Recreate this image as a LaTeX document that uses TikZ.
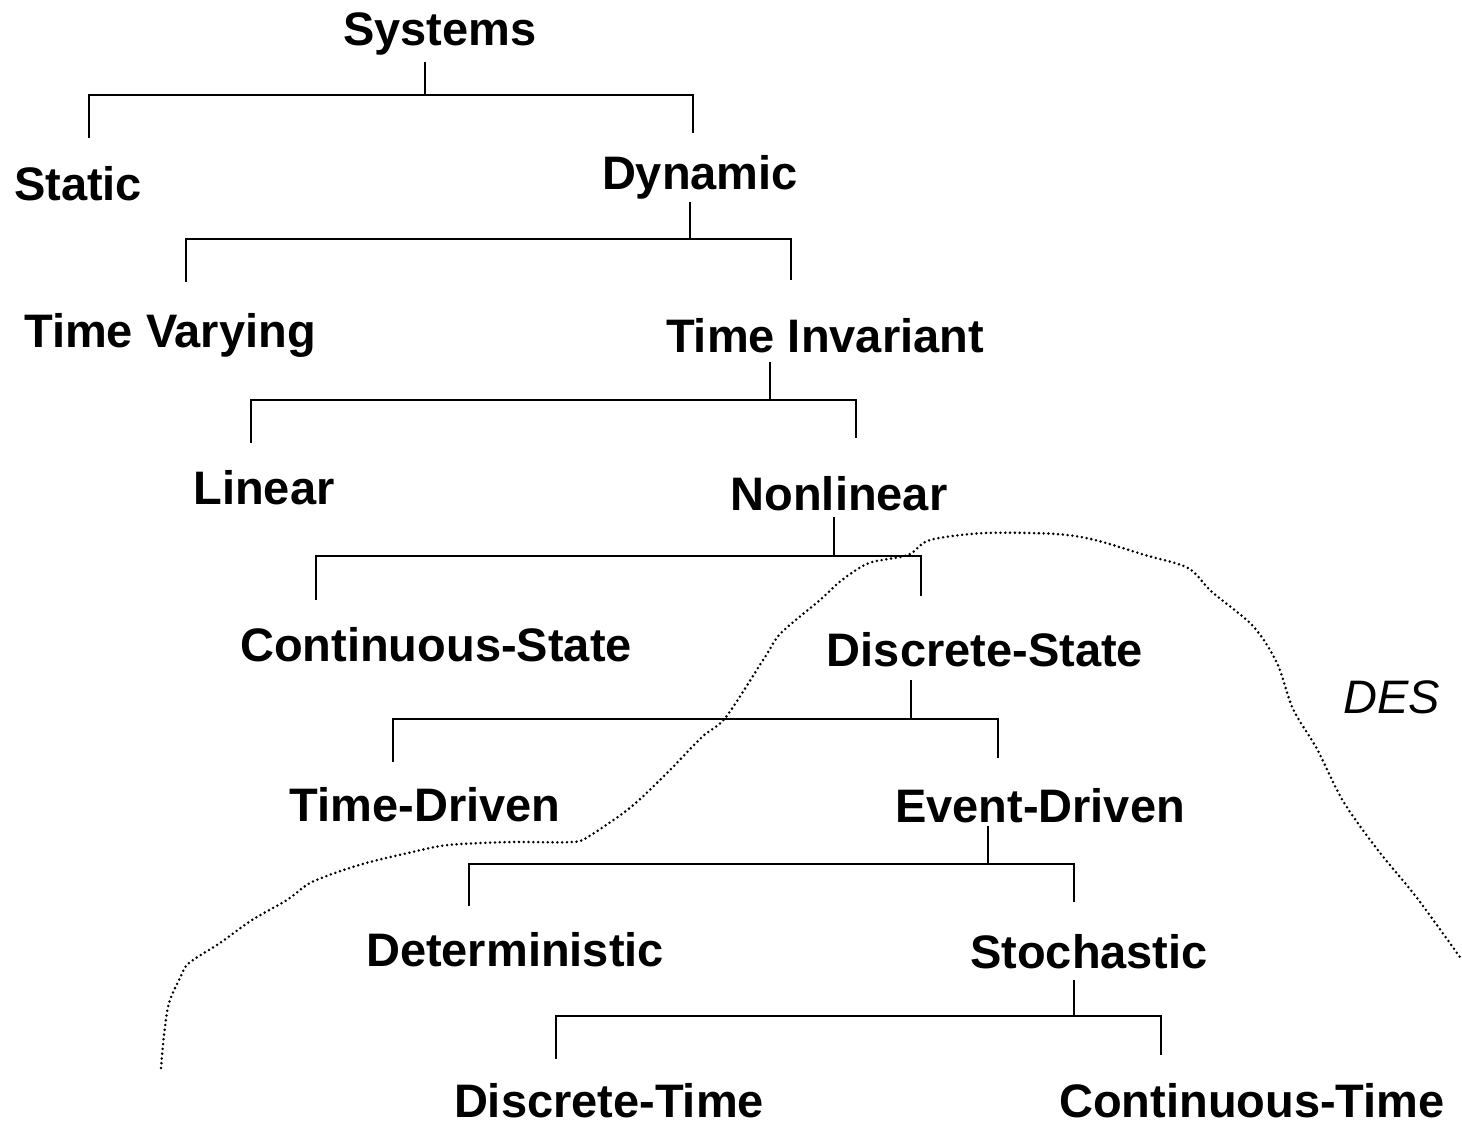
\documentclass[tikz,border=0pt]{standalone}
\usepackage{fontspec}
\setmainfont{Liberation Sans}
\begin{document}
\begin{tikzpicture}[x=1pt,y=-1pt,
  lbl/.style={inner sep=0pt,anchor=base,font=\fontsize{47}{56}\selectfont\bfseries},
  deslbl/.style={inner sep=0pt,anchor=base,font=\fontsize{47}{56}\selectfont\itshape},
  link/.style={line width=2.4pt,line cap=butt,line join=miter},
  boundary/.style={line width=2.8pt,line cap=round,dash pattern=on 0pt off 4.8pt}]
\useasboundingbox (0,0) rectangle (1462,1124);

% classification labels
\node[lbl] (sys)   at (440,46)   {Systems};
\node[lbl] (stat)  at (78,200)   {Static};
\node[lbl] (dyn)   at (700,189)  {Dynamic};
\node[lbl] (tvar)  at (170,347)  {Time Varying};
\node[lbl] (tinv)  at (825,352)  {Time Invariant};
\node[lbl] (lin)   at (264,504)  {Linear};
\node[lbl] (nlin)  at (839,510)  {Nonlinear};
\node[lbl] (cst)   at (436,661)  {Continuous-State};
\node[lbl] (dst)   at (985,666)  {Discrete-State};
\node[lbl] (tdr)   at (425,821)  {Time-Driven};
\node[lbl] (edr)   at (1040,822) {Event-Driven};
\node[lbl] (det)   at (515,966)  {Deterministic};
\node[lbl] (sto)   at (1089,968) {Stochastic};
\node[lbl] (dtime) at (609,1117) {Discrete-Time};
\node[lbl] (ctime) at (1252,1117){Continuous-Time};
\node[deslbl] (des) at (1392,713) {DES};

% bracket connectors: stem x / stem top / bar y / left x / left end / right x / right end
\foreach \sx/\st/\by/\lx/\lb/\rx/\rb in {
  425/62/95/89/138/693/133,
  690/202/239/186/282/791/280,
  770/362/400/251/443/856/438,
  834/517/556/316/600/921/596,
  911/680/719/393/762/998/758,
  988/826/864/469/906/1074/902,
  1074/980/1016/556/1059/1161/1055}{
  \coordinate (stemtop) at (\sx,\st);
  \coordinate (stembot) at (\sx,\by);
  \coordinate (ltop) at (\lx,\by);
  \coordinate (lbot) at (\lx,\lb);
  \coordinate (rtop) at (\rx,\by);
  \coordinate (rbot) at (\rx,\rb);
  \draw[link] (stemtop) -- (stembot);
  \draw[link] (lbot) -- (ltop) -- (rtop) -- (rbot);
}

% boundary of the discrete event systems region
\draw[boundary] plot[smooth,tension=0.5] coordinates {
  (161,1068) (164,1035) (169,1003) (180,978) (189,963) (220,943) (252,920)
  (287,900) (312,882) (359,865) (408,853) (448,845) (511,842) (573,842)
  (591,835) (631,807) (667,773) (702,737) (726,717) (765,657) (781,633)
  (820,600) (842,580) (869,563) (908,555) (930,540) (985,533) (1056,534)
  (1095,540) (1145,555) (1188,568) (1212,592) (1253,626) (1277,663)
  (1293,709) (1317,749) (1343,801) (1377,849) (1417,898) (1462,960)};
\end{tikzpicture}
\end{document}
